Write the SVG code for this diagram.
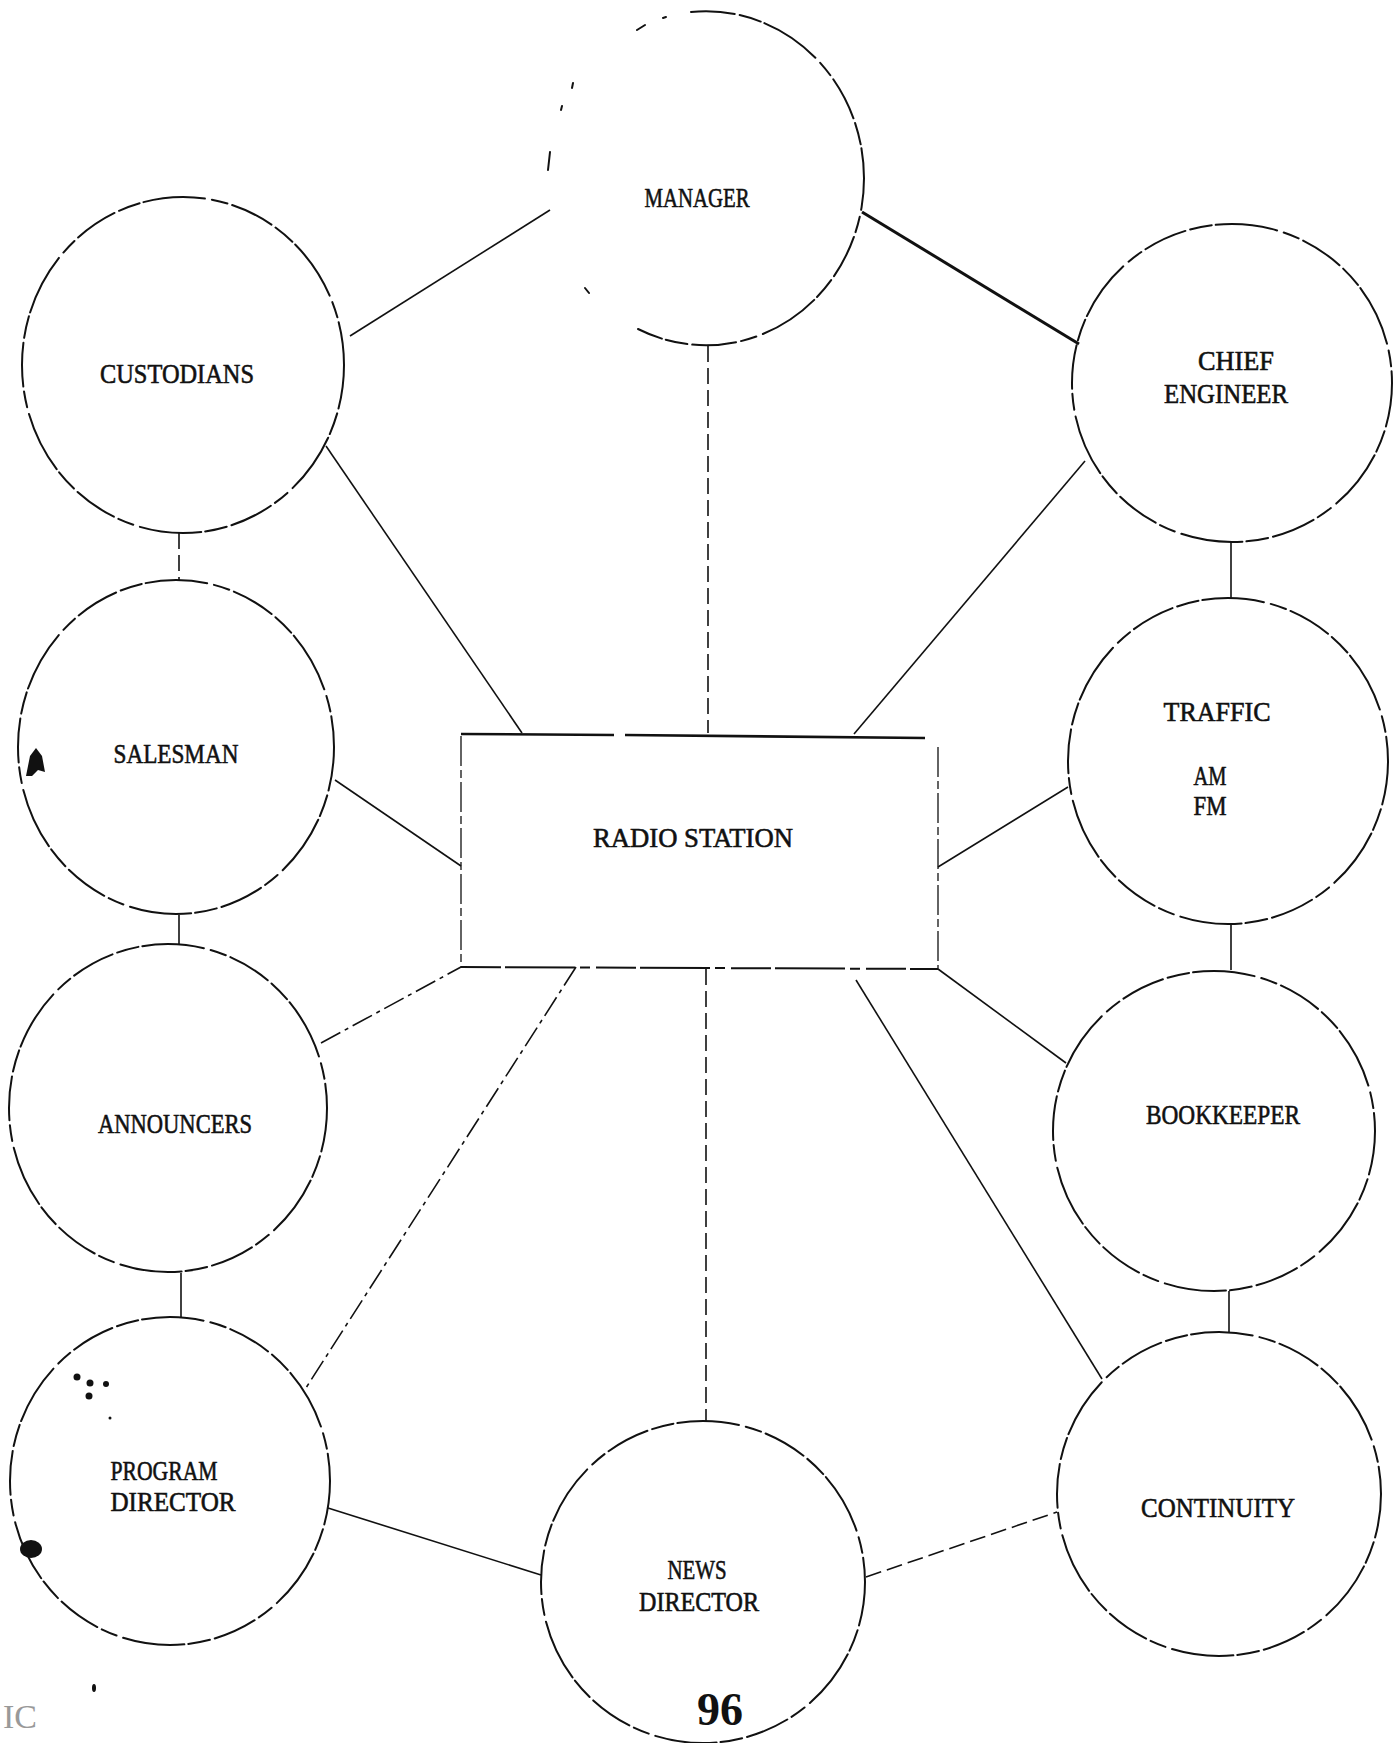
<svg xmlns="http://www.w3.org/2000/svg" width="1399" height="1743" viewBox="0 0 1399 1743">
<style>
.node{fill:none;stroke:#111;stroke-width:2;stroke-dasharray:44 5 22 4 62 7 16 5;stroke-linecap:round}
.lbl{font-family:"Liberation Serif","DejaVu Serif",serif;font-size:28px;fill:#111;text-anchor:middle;stroke:#111;stroke-width:0.6}
.c{stroke:#111;stroke-width:1.6;fill:none}
.thick{stroke-width:3}
.d{stroke-dasharray:16 6}
.dd{stroke-dasharray:22 5 4 5}
.edge{stroke:#111;fill:none}
</style>
<rect width="1399" height="1743" fill="#fff"/>

<g id="connectors">
  <line class="c" x1="350" y1="336" x2="550" y2="210"/>
  <line class="c thick" x1="862" y1="212" x2="1079" y2="344"/>
  <line class="c" x1="326" y1="446" x2="522" y2="733"/>
  <line class="c d" x1="708" y1="346" x2="708" y2="733"/>
  <line class="c" x1="1085" y1="461" x2="854" y2="734"/>
  <line class="c" x1="1231" y1="542" x2="1231" y2="598"/>
  <line class="c d" x1="179" y1="533" x2="179" y2="580"/>
  <line class="c" x1="335" y1="780" x2="461" y2="866"/>
  <line class="c" x1="1068" y1="787" x2="938" y2="867"/>
  <line class="c" x1="179" y1="915" x2="179" y2="944"/>
  <line class="c dd" x1="321" y1="1043" x2="461" y2="967"/>
  <line class="c dd" x1="576" y1="967" x2="304" y2="1391"/>
  <line class="c d" x1="706" y1="969" x2="706" y2="1421"/>
  <line class="c" x1="856" y1="980" x2="1102" y2="1379"/>
  <line class="c" x1="938" y1="969" x2="1066" y2="1063"/>
  <line class="c" x1="1231" y1="924" x2="1231" y2="970"/>
  <line class="c" x1="1229" y1="1291" x2="1229" y2="1332"/>
  <line class="c" x1="181" y1="1273" x2="181" y2="1317"/>
  <line class="c" x1="328" y1="1508" x2="541" y2="1575"/>
  <line class="c d" x1="866" y1="1577" x2="1057" y2="1512"/>
</g>

<g id="radio-station">
  <line class="edge" stroke-width="2.6" x1="461" y1="734" x2="614" y2="735"/>
  <line class="edge" stroke-width="2.6" x1="625" y1="735" x2="925" y2="738"/>
  <line class="edge" stroke-width="1.3" stroke-dasharray="30 4 8 4" x1="461" y1="736" x2="461" y2="967"/>
  <line class="edge" stroke-width="1.3" stroke-dasharray="30 4 8 4" x1="938" y1="747" x2="938" y2="969"/>
  <line class="edge" stroke-width="2" stroke-dasharray="40 4 70 5 10 6" x1="461" y1="967" x2="938" y2="969"/>
  <text class="lbl" x="693" y="847" textLength="200" lengthAdjust="spacingAndGlyphs">RADIO STATION</text>
</g>

<g id="manager">
  <path class="node" d="M691,12 A158,167 0 1 1 638,329"/>
  <path class="node" stroke-dasharray="none" d="M637,30 L645,25 M663,18 L666,17 M573,83 L572,88 M562,106 L561,110 M550,152 L548,170 M585,288 L589,293"/>
  <text class="lbl" x="697" y="207" textLength="105" lengthAdjust="spacingAndGlyphs">MANAGER</text>
</g>

<g id="custodians">
  <ellipse class="node" cx="183" cy="365" rx="161" ry="168"/>
  <text class="lbl" x="177" y="383" textLength="154" lengthAdjust="spacingAndGlyphs">CUSTODIANS</text>
</g>

<g id="chief-engineer">
  <ellipse class="node" cx="1232" cy="383" rx="160" ry="159" stroke-dasharray="30 9 12 8 50 6 20 5"/>
  <text class="lbl" x="1236" y="370" textLength="76" lengthAdjust="spacingAndGlyphs">CHIEF</text>
  <text class="lbl" x="1226" y="403" textLength="124" lengthAdjust="spacingAndGlyphs">ENGINEER</text>
</g>

<g id="salesman">
  <ellipse class="node" cx="176" cy="747" rx="158" ry="167"/>
  <text class="lbl" x="176" y="763" textLength="125" lengthAdjust="spacingAndGlyphs">SALESMAN</text>
</g>

<g id="traffic">
  <ellipse class="node" cx="1228" cy="761" rx="160" ry="163"/>
  <text class="lbl" x="1217" y="721" textLength="107" lengthAdjust="spacingAndGlyphs">TRAFFIC</text>
  <text class="lbl" x="1210" y="785" textLength="33" lengthAdjust="spacingAndGlyphs">AM</text>
  <text class="lbl" x="1210" y="815" textLength="33" lengthAdjust="spacingAndGlyphs">FM</text>
</g>

<g id="announcers">
  <ellipse class="node" cx="168" cy="1108" rx="159" ry="164" stroke-dasharray="30 8 14 6 40 6"/>
  <text class="lbl" x="175" y="1133" textLength="154" lengthAdjust="spacingAndGlyphs">ANNOUNCERS</text>
</g>

<g id="bookkeeper">
  <ellipse class="node" cx="1214" cy="1131" rx="161" ry="160"/>
  <text class="lbl" x="1223" y="1124" textLength="154" lengthAdjust="spacingAndGlyphs">BOOKKEEPER</text>
</g>

<g id="program-director">
  <ellipse class="node" cx="170" cy="1481" rx="160" ry="164"/>
  <text class="lbl" x="164" y="1480" textLength="107" lengthAdjust="spacingAndGlyphs">PROGRAM</text>
  <text class="lbl" x="173" y="1511" textLength="125" lengthAdjust="spacingAndGlyphs">DIRECTOR</text>
</g>

<g id="news-director">
  <ellipse class="node" cx="703" cy="1582" rx="162" ry="161"/>
  <text class="lbl" x="697" y="1579" textLength="59" lengthAdjust="spacingAndGlyphs">NEWS</text>
  <text class="lbl" x="699" y="1611" textLength="120" lengthAdjust="spacingAndGlyphs">DIRECTOR</text>
</g>

<g id="continuity">
  <ellipse class="node" cx="1219" cy="1494" rx="162" ry="162" stroke-dasharray="34 8 14 7 50 6"/>
  <text class="lbl" x="1218" y="1517" textLength="154" lengthAdjust="spacingAndGlyphs">CONTINUITY</text>
</g>

<g id="page-marks">
  <text x="720" y="1725" font-family="Liberation Serif, serif" font-weight="bold" font-size="46" text-anchor="middle" fill="#111">96</text>
  <text x="3" y="1728" font-family="Liberation Serif, serif" font-size="34" fill="#999">IC</text>
  <path d="M26,776 L30,756 L36,748 L42,756 L45,772 L38,770 L32,776 Z" fill="#111"/>
  <circle cx="77" cy="1377" r="3.5" fill="#111"/>
  <circle cx="90" cy="1383" r="3.5" fill="#111"/>
  <circle cx="106" cy="1384" r="3" fill="#111"/>
  <circle cx="89" cy="1396" r="3.5" fill="#111"/>
  <circle cx="110" cy="1418" r="1.5" fill="#111"/>
  <ellipse cx="31" cy="1549" rx="11" ry="9" fill="#111"/>
  <ellipse cx="94" cy="1688" rx="2" ry="4" fill="#111"/>
</g>
</svg>
